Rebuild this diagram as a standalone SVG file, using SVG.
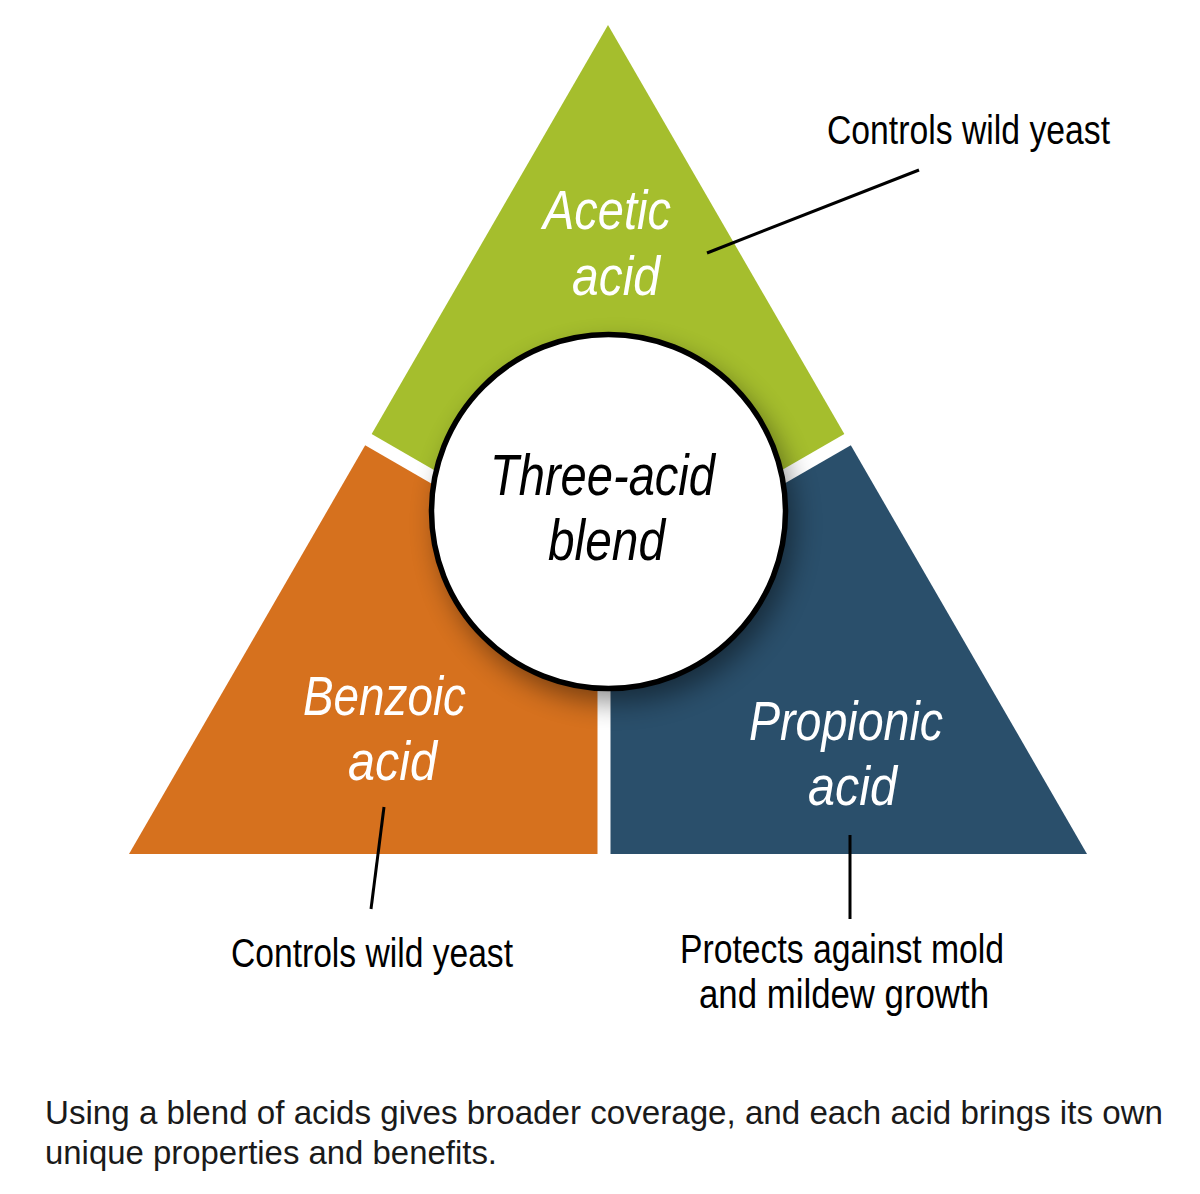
<svg xmlns="http://www.w3.org/2000/svg" width="1200" height="1194" viewBox="0 0 1200 1194">
  <defs>
    <style>
      .seg-label { font-family: "Liberation Sans", Arial, sans-serif; font-style: italic; font-size: 56px; fill: #ffffff; }
      .center-label { font-family: "Liberation Sans", Arial, sans-serif; font-style: italic; font-size: 58px; fill: #000000; }
      .note { font-family: "Liberation Sans", Arial, sans-serif; font-size: 40px; fill: #000000; }
      .caption { font-family: "Liberation Sans", Arial, sans-serif; font-size: 33px; fill: #1a1a1a; }
      .gap { stroke: #ffffff; stroke-width: 13; fill: none; }
      .leader { stroke: #000000; stroke-width: 3; fill: none; stroke-linecap: butt; }
    </style>
    <filter id="shadow" x="-30%" y="-30%" width="160%" height="160%">
      <feGaussianBlur stdDeviation="14"/>
    </filter>
  </defs>

  <rect width="1200" height="1194" fill="#ffffff"/>

  <g id="acetic-acid">
    <polygon points="608,25 847.5,439.5 608,578 368.5,439.5" fill="#A5BE2D"/>
  </g>
  <g id="benzoic-acid">
    <polygon points="368.5,439.5 608,578 604,854 129,854" fill="#D6711E"/>
  </g>
  <g id="propionic-acid">
    <polygon points="847.5,439.5 1087,854 604,854 608,578" fill="#2A4F6B"/>
  </g>

  <g id="gaps">
    <line class="gap" x1="608" y1="578" x2="358" y2="433.7"/>
    <line class="gap" x1="608" y1="578" x2="858" y2="433.7"/>
    <line class="gap" x1="604" y1="560" x2="604" y2="860"/>
  </g>

  <g id="three-acid-blend">
    <circle cx="616" cy="524" r="178" fill="#000000" opacity="0.45" filter="url(#shadow)"/>
    <circle cx="608.5" cy="511.5" r="177" fill="#ffffff" stroke="#000000" stroke-width="5.5"/>
    <text class="center-label" x="490" y="495" textLength="225" lengthAdjust="spacingAndGlyphs">Three-acid</text>
    <text class="center-label" x="548" y="560" textLength="117" lengthAdjust="spacingAndGlyphs">blend</text>
  </g>

  <g id="acetic-labels">
    <text class="seg-label" x="543" y="229" textLength="128" lengthAdjust="spacingAndGlyphs">Acetic</text>
    <text class="seg-label" x="572" y="295" textLength="88" lengthAdjust="spacingAndGlyphs">acid</text>
  </g>
  <g id="benzoic-labels">
    <text class="seg-label" x="303" y="715" textLength="163" lengthAdjust="spacingAndGlyphs">Benzoic</text>
    <text class="seg-label" x="348" y="780" textLength="89" lengthAdjust="spacingAndGlyphs">acid</text>
  </g>
  <g id="propionic-labels">
    <text class="seg-label" x="749" y="740" textLength="194" lengthAdjust="spacingAndGlyphs">Propionic</text>
    <text class="seg-label" x="808" y="805" textLength="89" lengthAdjust="spacingAndGlyphs">acid</text>
  </g>

  <g id="connectors">
    <line class="leader" x1="707" y1="253" x2="919" y2="170"/>
    <line class="leader" x1="384" y1="807" x2="371" y2="909"/>
    <line class="leader" x1="850" y1="835" x2="850" y2="919"/>
  </g>

  <g id="note-acetic">
    <text class="note" x="827" y="144" textLength="283" lengthAdjust="spacingAndGlyphs">Controls wild yeast</text>
  </g>
  <g id="note-benzoic">
    <text class="note" x="231" y="967" textLength="282" lengthAdjust="spacingAndGlyphs">Controls wild yeast</text>
  </g>
  <g id="note-propionic">
    <text class="note" x="680" y="963" textLength="324" lengthAdjust="spacingAndGlyphs">Protects against mold</text>
    <text class="note" x="699" y="1008" textLength="290" lengthAdjust="spacingAndGlyphs">and mildew growth</text>
  </g>

  <g id="caption">
    <text class="caption" x="45" y="1124" textLength="1118" lengthAdjust="spacingAndGlyphs">Using a blend of acids gives broader coverage, and each acid brings its own</text>
    <text class="caption" x="45" y="1164" textLength="452" lengthAdjust="spacingAndGlyphs">unique properties and benefits.</text>
  </g>
</svg>
